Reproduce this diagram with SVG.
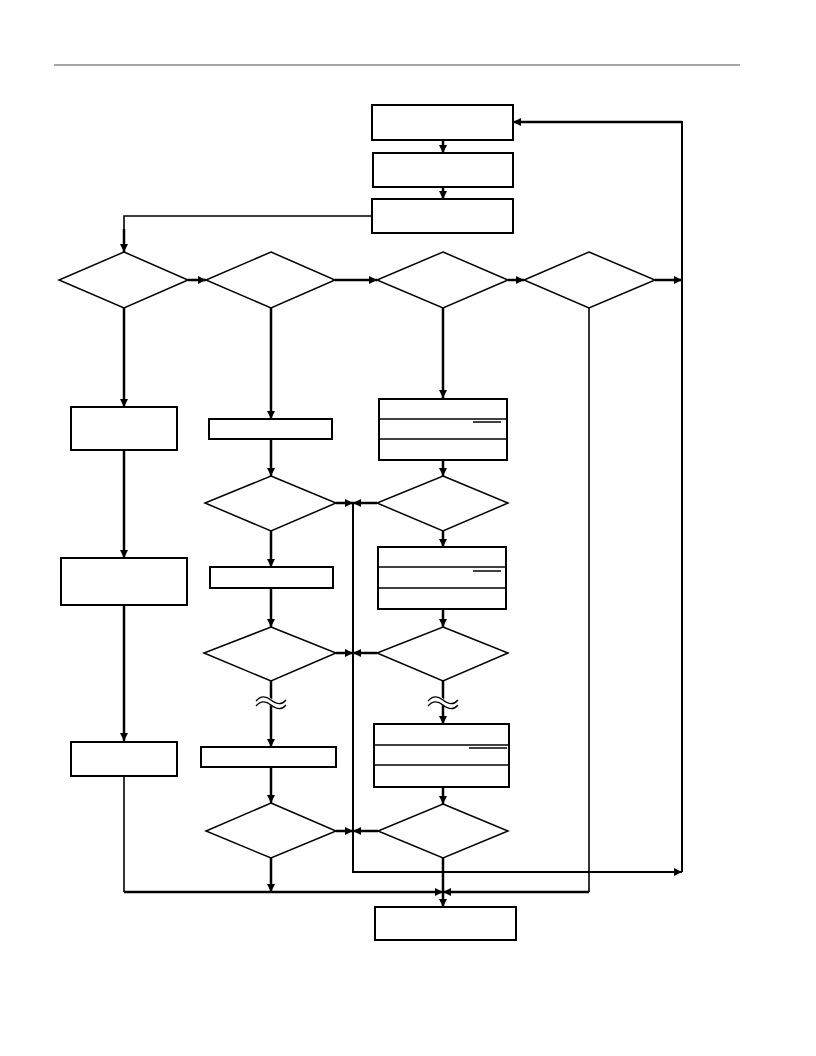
<svg xmlns="http://www.w3.org/2000/svg" width="816" height="1056" viewBox="0 0 816 1056">
<style>
.box{fill:#fff;stroke:#000;stroke-width:2}
.dia{fill:#fff;stroke:#000;stroke-width:1.5}
.in{stroke:#000;stroke-width:1.5;fill:none}
.c{fill:none;stroke:#000;stroke-width:2.5}
.t{fill:none;stroke:#000;stroke-width:1.6}
.r{fill:none;stroke:#000;stroke-width:2}
.w{fill:none;stroke:#000;stroke-width:1.3}
.wb{fill:none;stroke:#fff;stroke-width:6}
</style>
<defs>
<marker id="ah" viewBox="0 0 8 8" refX="8" refY="4" markerWidth="8" markerHeight="8" markerUnits="userSpaceOnUse" orient="auto">
<path d="M0,0 L8,4 L0,8 z" fill="#000"/>
</marker>
</defs>
<rect width="816" height="1056" fill="#fff"/>
<line x1="54" y1="65" x2="740" y2="65" stroke="#a6a6a6" stroke-width="2"/>

<g id="connectors">
<path class="c" d="M443,140 L443,153" marker-end="url(#ah)"/>
<path class="c" d="M443,187 L443,199" marker-end="url(#ah)"/>
<path class="t" d="M372,216 L124,216 L124,230"/>
<path class="c" d="M124,229 L124,252" marker-end="url(#ah)"/>
<path class="c" d="M188,280 L206,280" marker-end="url(#ah)"/>
<path class="c" d="M335,280 L377,280" marker-end="url(#ah)"/>
<path class="c" d="M508,280 L524,280" marker-end="url(#ah)"/>
<path class="c" d="M655,280 L682,280" marker-end="url(#ah)"/>
<path class="r" d="M682,872 L682,122 L540,122"/>
<path class="c" d="M682,122 L513,122" marker-end="url(#ah)"/>
<path class="r" d="M353,503 L353,872 L682,872" marker-end="url(#ah)"/>
<path class="c" d="M124,308 L124,407" marker-end="url(#ah)"/>
<path class="c" d="M124,450 L124,558" marker-end="url(#ah)"/>
<path class="c" d="M124,605 L124,741" marker-end="url(#ah)"/>
<path class="t" d="M124,776 L124,892"/>
<path class="c" d="M124,892 L443,892" marker-end="url(#ah)"/>
<path class="t" d="M589,308 L589,892"/>
<path class="c" d="M589,892 L443,892" marker-end="url(#ah)"/>
<path class="c" d="M271,308 L271,419" marker-end="url(#ah)"/>
<path class="c" d="M271,439 L271,476" marker-end="url(#ah)"/>
<path class="c" d="M271,531 L271,567" marker-end="url(#ah)"/>
<path class="c" d="M271,588 L271,627" marker-end="url(#ah)"/>
<path class="c" d="M271,681 L271,747" marker-end="url(#ah)"/>
<path class="c" d="M271,767 L271,803" marker-end="url(#ah)"/>
<path class="c" d="M271,858 L271,892" marker-end="url(#ah)"/>
<path class="c" d="M443,308 L443,398" marker-end="url(#ah)"/>
<path class="c" d="M443,460 L443,476" marker-end="url(#ah)"/>
<path class="c" d="M443,531 L443,547" marker-end="url(#ah)"/>
<path class="c" d="M443,609 L443,627" marker-end="url(#ah)"/>
<path class="c" d="M443,681 L443,724" marker-end="url(#ah)"/>
<path class="c" d="M443,787 L443,804" marker-end="url(#ah)"/>
<path class="c" d="M443,858 L443,907" marker-end="url(#ah)"/>
<path class="c" d="M336,503 L353,503" marker-end="url(#ah)"/>
<path class="c" d="M377,503 L353,503" marker-end="url(#ah)"/>
<path class="c" d="M336,653 L353,653" marker-end="url(#ah)"/>
<path class="c" d="M377,653 L353,653" marker-end="url(#ah)"/>
<path class="c" d="M336,831 L353,831" marker-end="url(#ah)"/>
<path class="c" d="M378,831 L353,831" marker-end="url(#ah)"/>
<g id="breaks">
<path class="wb" d="M256,703 C261,697 266,698 271,702 S281,708 286,702"/>
<path class="w" d="M256,701 C261,695 266,696 271,700 S281,706 286,700"/>
<path class="w" d="M256,706 C261,700 266,701 271,705 S281,711 286,705"/>
<path class="wb" d="M428,703 C433,697 438,698 443,702 S453,708 458,702"/>
<path class="w" d="M428,701 C433,695 438,696 443,700 S453,706 458,700"/>
<path class="w" d="M428,706 C433,700 438,701 443,705 S453,711 458,705"/>
</g>
</g>

<g id="boxA"><rect class="box" x="372" y="105" width="141" height="35"/></g>
<g id="boxB"><rect class="box" x="373" y="153" width="140" height="34"/></g>
<g id="boxC"><rect class="box" x="372" y="199" width="141" height="34"/></g>

<g id="d1"><polygon class="dia" points="124,252 188,280 124,308 59,280"/></g>
<g id="d2"><polygon class="dia" points="271,252 335,280 271,308 206,280"/></g>
<g id="d3"><polygon class="dia" points="443,252 508,280 443,308 377,280"/></g>
<g id="d4"><polygon class="dia" points="589,252 655,280 589,308 524,280"/></g>

<g id="L1"><rect class="box" x="71" y="407" width="106" height="43"/></g>
<g id="L2"><rect class="box" x="61" y="558" width="126" height="47"/></g>
<g id="L3"><rect class="box" x="71" y="742" width="106" height="34"/></g>

<g id="M1"><rect class="box" x="209" y="419" width="123" height="20"/></g>
<g id="M2"><polygon class="dia" points="271,476 336,503 271,531 205,503"/></g>
<g id="M3"><rect class="box" x="210" y="567" width="123" height="21"/></g>
<g id="M4"><polygon class="dia" points="271,627 336,653 271,681 204,653"/></g>
<g id="M5"><rect class="box" x="201" y="747" width="135" height="20"/></g>
<g id="M6"><polygon class="dia" points="271,803 336,831 271,858 206,831"/></g>

<g id="R1"><rect class="box" x="379" y="399" width="128" height="61"/>
<line class="in" x1="379" y1="419" x2="507" y2="419"/><line class="in" x1="379" y1="439" x2="507" y2="439"/>
<line class="in" x1="473" y1="422" x2="501" y2="422"/></g>
<g id="R2"><polygon class="dia" points="443,476 508,503 443,531 377,503"/></g>
<g id="R3"><rect class="box" x="378" y="547" width="128" height="62"/>
<line class="in" x1="378" y1="567" x2="506" y2="567"/><line class="in" x1="378" y1="588" x2="506" y2="588"/>
<line class="in" x1="473" y1="571" x2="501" y2="571"/></g>
<g id="R4"><polygon class="dia" points="443,627 508,653 443,681 377,653"/></g>
<g id="R5"><rect class="box" x="374" y="724" width="135" height="63"/>
<line class="in" x1="374" y1="745" x2="509" y2="745"/><line class="in" x1="374" y1="765" x2="509" y2="765"/>
<line class="in" x1="469" y1="748" x2="507" y2="748"/></g>
<g id="R6"><polygon class="dia" points="443,804 508,831 443,858 378,831"/></g>

<g id="END"><rect class="box" x="375" y="907" width="141" height="33"/></g>
</svg>
